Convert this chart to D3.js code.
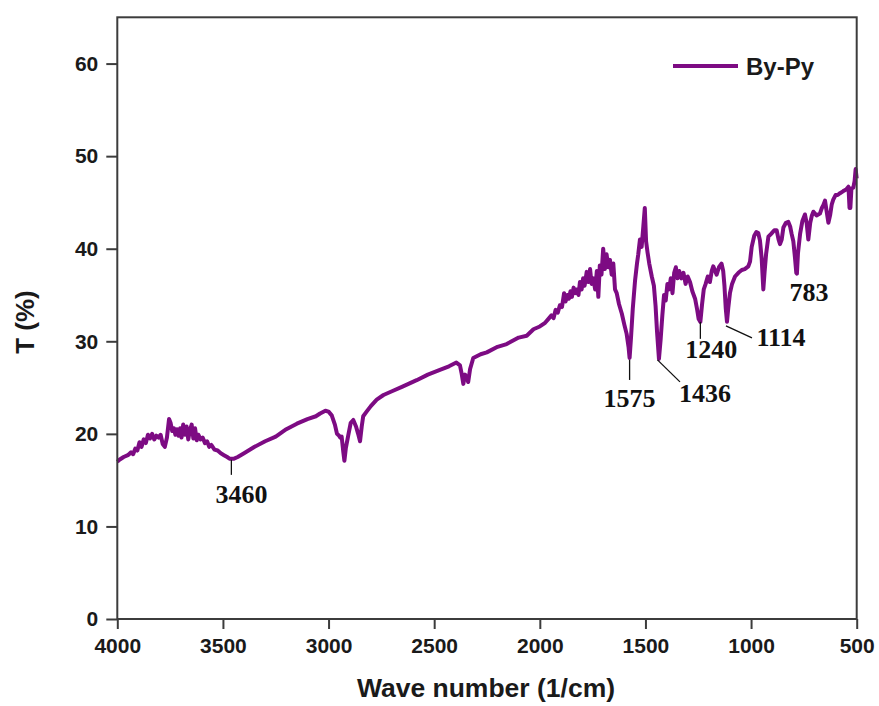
<!DOCTYPE html>
<html>
<head>
<meta charset="utf-8">
<script src="https://cdn.jsdelivr.net/npm/d3@7"></script>
<style>
  html, body { margin: 0; padding: 0; background: #fff; }
  svg { display: block; }
</style>
</head>
<body>
<svg id="chart" width="879" height="706"></svg>
<script>
// FTIR spectrum of By-Py
const wavenumber = [
  4000, 3990, 3970, 3950, 3935, 3925, 3915, 3905, 3895, 3885, 3875, 3865, 3855, 3845, 3835, 3825,
  3815, 3805, 3795, 3785, 3775, 3765, 3755, 3748, 3740, 3732, 3725, 3718, 3710, 3703, 3696, 3688,
  3680, 3672, 3664, 3656, 3648, 3640, 3632, 3624, 3616, 3606, 3596, 3585, 3575, 3565, 3555, 3540,
  3525, 3510, 3495, 3480, 3467, 3450, 3430, 3400, 3350, 3300, 3250, 3200, 3150, 3100, 3060, 3040,
  3015, 3000, 2985, 2970, 2960, 2950, 2945, 2938, 2930, 2925, 2918, 2907, 2895, 2883, 2870, 2860,
  2851, 2843, 2836, 2820, 2800, 2772, 2740, 2700, 2650, 2583, 2530, 2473, 2430, 2395, 2378, 2370,
  2362, 2354, 2346, 2339, 2330, 2315, 2280, 2251, 2200, 2157, 2100, 2062, 2030, 2000, 1975, 1960,
  1945, 1935, 1925, 1915, 1905, 1895, 1885, 1878, 1870, 1862, 1855, 1848, 1840, 1832, 1825, 1817,
  1810, 1802, 1795, 1788, 1778, 1770, 1762, 1755, 1747, 1738, 1730, 1723, 1716, 1708, 1700, 1692,
  1684, 1676, 1668, 1660, 1652, 1644, 1636, 1625, 1612, 1600, 1589, 1580, 1575, 1568, 1560, 1549,
  1540, 1534, 1526, 1518, 1510, 1503, 1497, 1490, 1482, 1470, 1460, 1452, 1445, 1436, 1428, 1420,
  1412, 1404, 1396, 1388, 1380, 1372, 1364, 1356, 1348, 1340, 1330, 1320, 1310, 1300, 1289, 1278,
  1265, 1255, 1248, 1240, 1232, 1224, 1215, 1205, 1195, 1186, 1179, 1170, 1163, 1152, 1140, 1132,
  1126, 1120, 1114, 1108, 1100, 1090, 1076, 1060, 1044, 1030, 1013, 1005, 997, 985, 975, 966,
  958, 950, 942, 936, 929, 918, 905, 890, 879, 870, 863, 855, 847, 835, 824, 815,
  808, 800, 792, 786, 783, 778, 768, 757, 745, 737, 729, 720, 712, 705, 690, 674,
  665, 658, 650, 642, 634, 626, 618, 611, 600, 590, 579, 565, 550, 539, 534, 530,
  525, 516, 510, 505, 502, 500
];
const transmittance = [
  17.0, 17.2, 17.5, 17.7, 18.0, 17.8, 18.4, 18.2, 19.1, 18.6, 19.4, 19.0, 19.9, 19.5, 20.0, 19.4,
  19.8, 19.6, 19.9, 18.9, 18.6, 19.6, 21.6, 21.2, 20.3, 20.6, 19.9, 20.5, 19.8, 20.6, 19.6, 21.0,
  19.9, 20.8, 19.4, 20.4, 21.0, 19.5, 20.6, 19.3, 19.9, 19.4, 19.6, 19.0, 19.2, 18.6, 18.8, 18.3,
  18.2, 17.9, 17.7, 17.5, 17.3, 17.3, 17.5, 17.9, 18.6, 19.2, 19.7, 20.5, 21.1, 21.6, 21.9, 22.2,
  22.5, 22.4, 22.0, 21.0, 20.0, 19.8, 19.6, 19.7, 18.0, 17.1, 18.5, 19.8, 21.2, 21.5, 20.8, 20.0,
  19.2, 20.8, 21.9, 22.4, 23.0, 23.7, 24.2, 24.6, 25.1, 25.8, 26.4, 26.9, 27.3, 27.7, 27.4, 26.5,
  25.4, 26.4, 26.1, 25.6, 27.0, 28.2, 28.6, 28.8, 29.4, 29.7, 30.4, 30.6, 31.3, 31.6, 32.0, 32.4,
  32.8, 32.5, 33.4, 33.1, 33.9, 33.7, 35.2, 34.3, 35.0, 34.6, 35.4, 34.8, 35.8, 35.2, 35.6, 35.0,
  36.4, 35.6, 36.8, 36.0, 37.5, 36.4, 37.8, 36.2, 36.8, 35.6, 37.6, 34.8, 38.2, 37.2, 40.0, 37.8,
  39.4, 38.0, 38.8, 37.2, 38.4, 35.6, 35.2, 34.0, 33.0, 31.8, 30.8, 29.4, 28.2, 30.5, 33.5, 36.6,
  38.4, 39.4, 41.0, 40.2, 42.4, 44.4, 40.8, 39.6, 38.4, 37.0, 36.0, 33.8, 31.0, 28.1, 30.2, 32.8,
  35.0, 34.4, 36.2, 35.6, 36.8, 35.2, 37.4, 38.0, 36.8, 37.6, 36.8, 37.4, 36.2, 37.0, 36.4, 35.4,
  34.6, 33.4, 32.4, 32.1, 34.0, 35.6, 36.2, 37.0, 36.4, 37.6, 38.1, 37.6, 37.2, 38.0, 38.4, 37.6,
  36.0, 33.6, 32.1, 33.6, 35.2, 36.2, 37.0, 37.4, 37.7, 37.8, 38.1, 38.6, 40.2, 41.4, 41.8, 41.7,
  40.9, 39.0, 35.6, 37.5, 39.4, 41.3, 41.6, 42.0, 42.0, 41.0, 40.5, 41.0, 42.3, 42.8, 42.9, 42.4,
  41.6, 40.8, 39.0, 37.4, 37.3, 39.5, 41.6, 43.0, 43.7, 42.8, 41.0, 42.8, 43.6, 44.0, 43.6, 43.8,
  44.4, 44.7, 45.2, 44.0, 42.8, 43.6, 44.8, 45.3, 45.8, 45.8, 46.0, 46.2, 46.4, 46.7, 44.4, 44.4,
  46.5, 46.6, 47.3, 48.6, 48.0, 47.6
];

// annotated bands
const peakLabels = ["3460", "1575", "1436", "1240", "1114", "783"];
const peakWavenumber = [3460, 1575, 1436, 1240, 1114, 783];
const peakTransmittance = [17.3, 28.2, 28.1, 32.1, 32.1, 37.3];

const xTicks = [4000, 3500, 3000, 2500, 2000, 1500, 1000, 500];
const yTicks = [0, 10, 20, 30, 40, 50, 60];
const seriesName = "By-Py";

const width = 879, height = 706;
const margin = { top: 17.3, right: 22.3, bottom: 87, left: 117.3 };
const lineColor = "#7d0b83";
const axisColor = "#3c3c3c";
const sansFont = "'Liberation Sans', Arial, sans-serif";
const serifFont = "'Liberation Serif', 'Times New Roman', serif";

const svg = d3.select("#chart");
svg.append("rect").attr("width", width).attr("height", height).attr("fill", "#fff");

const x = d3.scaleLinear()
    .domain([4000, 500])
    .range([margin.left, width - margin.right]);
const y = d3.scaleLinear()
    .domain([0, 65])
    .range([height - margin.bottom, margin.top]);

const data = wavenumber.map((w, i) => ({ w: w, t: transmittance[i] }));

// spectrum
const line = d3.line()
    .x(d => x(d.w))
    .y(d => y(d.t));

svg.append("path")
    .datum(data)
    .attr("fill", "none")
    .attr("stroke", lineColor)
    .attr("stroke-width", 4)
    .attr("stroke-linejoin", "round")
    .attr("d", line);

// frame
svg.append("rect")
    .attr("x", x(4000))
    .attr("y", y(65))
    .attr("width", x(500) - x(4000))
    .attr("height", y(0) - y(65))
    .attr("fill", "none")
    .attr("stroke", axisColor)
    .attr("stroke-width", 2);

// axes
const xAxis = svg.append("g")
    .attr("transform", `translate(0,${y(0)})`)
    .call(d3.axisBottom(x).tickValues(xTicks).tickSize(10).tickPadding(9).tickFormat(d3.format("d")));
const yAxis = svg.append("g")
    .attr("transform", `translate(${x(4000)},0)`)
    .call(d3.axisLeft(y).tickValues(yTicks).tickSize(11).tickPadding(8).tickFormat(d3.format("d")));

[xAxis, yAxis].forEach(g => {
    g.select(".domain").remove();
    g.selectAll(".tick line").attr("stroke", axisColor).attr("stroke-width", 2);
    g.selectAll(".tick text")
        .attr("fill", "#1a1a1a")
        .style("font-family", sansFont)
        .style("font-weight", "bold")
        .style("font-size", "21px");
});

// axis titles
svg.append("text")
    .attr("x", 486)
    .attr("y", 697)
    .attr("text-anchor", "middle")
    .style("font-family", sansFont)
    .style("font-weight", "bold")
    .style("font-size", "26.5px")
    .attr("fill", "#1a1a1a")
    .text("Wave number (1/cm)");

svg.append("text")
    .attr("transform", "translate(34,322) rotate(-90)")
    .attr("text-anchor", "middle")
    .style("font-family", sansFont)
    .style("font-weight", "bold")
    .style("font-size", "26px")
    .attr("fill", "#1a1a1a")
    .text("T (%)");

// legend
const legend = svg.append("g").attr("transform", "translate(673,66)");
legend.append("line")
    .attr("x1", 0).attr("x2", 65)
    .attr("stroke", lineColor)
    .attr("stroke-width", 4);
legend.append("text")
    .attr("x", 73)
    .attr("y", 9)
    .style("font-family", sansFont)
    .style("font-weight", "bold")
    .style("font-size", "24px")
    .attr("fill", "#1a1a1a")
    .text(seriesName);

// band annotations: leader line (relative to the band point) and label offset
const leaders = [
    { line: [0, 1, 0, 16], label: [10, 44] },
    { line: [0, 2, 0, 22], label: [0, 49] },
    { line: [-1.5, 1, 21, 23], label: [46, 43] },
    { line: [0, 0, 0, 17], label: [11, 36] },
    { line: [-1, 4, 25, 16], label: [54, 24] },
    { line: null, label: [12, 27] }
];

const ann = svg.append("g");
peakLabels.forEach((lab, i) => {
    const px = x(peakWavenumber[i]);
    const py = y(peakTransmittance[i]);
    const l = leaders[i];
    if (l.line) {
        ann.append("line")
            .attr("x1", px + l.line[0]).attr("y1", py + l.line[1])
            .attr("x2", px + l.line[2]).attr("y2", py + l.line[3])
            .attr("stroke", "#111")
            .attr("stroke-width", 1.3);
    }
    ann.append("text")
        .attr("x", px + l.label[0])
        .attr("y", py + l.label[1])
        .attr("text-anchor", "middle")
        .style("font-family", serifFont)
        .style("font-weight", "bold")
        .style("font-size", "26px")
        .attr("fill", "#111")
        .text(lab);
});
</script>
</body>
</html>
